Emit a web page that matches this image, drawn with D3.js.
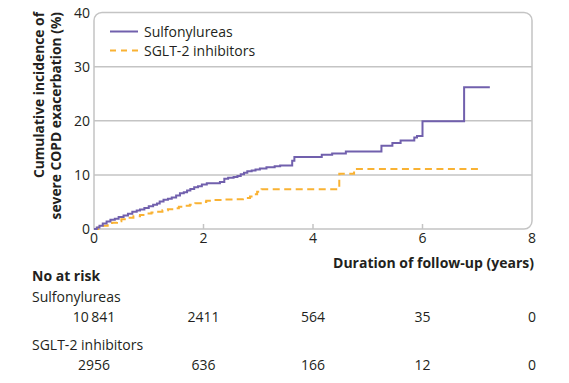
<!DOCTYPE html>
<html><head><meta charset="utf-8">
<script src="https://cdn.jsdelivr.net/npm/d3@7"></script>
<style>
html,body{margin:0;padding:0;background:#fff;}
svg{display:block;font-family:"Open Sans",sans-serif;}
</style></head>
<body><svg id="c" width="569" height="383"></svg>
<script>
// ---- data ----
const seriesNames = ["Sulfonylureas", "SGLT-2 inhibitors"];
const sulfonylureas = [[0,0],[0.05,0.3],[0.1,0.6],[0.16,1.0],[0.23,1.4],[0.3,1.7],[0.38,1.9],[0.45,2.2],[0.54,2.5],[0.62,2.8],[0.7,3.2],[0.78,3.4],[0.84,3.6],[0.92,3.9],[1.0,4.2],[1.08,4.5],[1.15,4.7],[1.2,5.1],[1.27,5.4],[1.35,5.6],[1.42,5.8],[1.5,6.2],[1.57,6.6],[1.64,6.8],[1.7,7.1],[1.76,7.4],[1.83,7.7],[1.9,7.9],[1.97,8.2],[2.06,8.45],[2.3,8.7],[2.38,9.3],[2.45,9.45],[2.55,9.6],[2.62,9.8],[2.68,10.1],[2.74,10.4],[2.8,10.65],[2.88,10.8],[2.95,11.0],[3.03,11.2],[3.15,11.4],[3.3,11.6],[3.4,11.75],[3.62,12.6],[3.66,13.3],[4.16,13.7],[4.35,13.95],[4.6,14.3],[5.25,15.4],[5.45,15.9],[5.6,16.35],[5.85,16.9],[5.9,17.2],[6.0,19.9],[6.76,26.2],[7.23,26.2]];
const sglt2 = [[0,0],[0.08,0.3],[0.16,0.6],[0.25,0.9],[0.33,1.15],[0.42,1.45],[0.5,1.8],[0.6,2.1],[0.72,2.35],[0.84,2.6],[0.95,2.85],[1.05,3.05],[1.14,3.2],[1.25,3.45],[1.35,3.65],[1.45,3.85],[1.55,4.1],[1.65,4.3],[1.75,4.5],[1.85,4.75],[1.95,5.0],[2.05,5.2],[2.2,5.35],[2.4,5.45],[2.6,5.5],[2.72,5.75],[2.85,6.0],[2.92,6.4],[2.98,6.9],[3.06,7.35],[4.48,10.2],[4.75,11.1],[7.08,11.1]];
const xTicks = [0,2,4,6,8];
const yTicks = [0,10,20,30,40];
const yGrid = [10,20,30];
const riskTimes = [0,2,4,6,8];
const riskSulf = ["10\u2009841","2411","564","35","0"];
const riskSglt = ["2956","636","166","12","0"];
const colors = ["#7160ad","#f9b233"];
const textColor = "#231f20";

// ---- chart ----
const svg = d3.select("#c");
const x = d3.scaleLinear().domain([0,8]).range([94,532]);
const y = d3.scaleLinear().domain([0,40]).range([229,12.5]);
const [x0,x1] = x.range(), [yb,yt] = y.range();

// grid
svg.append("g").selectAll("line").data(yGrid).join("line")
  .attr("x1",x0).attr("x2",x1).attr("y1",d=>y(d)).attr("y2",d=>y(d))
  .attr("stroke","#c4c4c4").attr("stroke-width",1.5);

// frame with rounded corners (not bottom-left)
const r = 8;
const p = d3.path();
p.moveTo(x0,yb);
p.lineTo(x0,yt+r);
p.arcTo(x0,yt,x0+r,yt,r);
p.lineTo(x1-r,yt);
p.arcTo(x1,yt,x1,yt+r,r);
p.lineTo(x1,yb-r);
p.arcTo(x1,yb,x1-r,yb,r);
p.closePath();
svg.append("path").attr("d",p.toString()).attr("fill","none")
  .attr("stroke","#c4c4c4").attr("stroke-width",1.5);

// x ticks inward
svg.append("g").selectAll("line").data(xTicks.slice(1,-1)).join("line")
  .attr("x1",d=>x(d)).attr("x2",d=>x(d)).attr("y1",yb).attr("y2",yb-5)
  .attr("stroke","#c4c4c4").attr("stroke-width",1.5);

// tick labels
svg.append("g").selectAll("text").data(xTicks).join("text")
  .attr("x",d=>x(d)).attr("y",243).attr("text-anchor","middle")
  .attr("font-size",14).attr("fill",textColor).text(d=>d);
svg.append("g").selectAll("text").data(yTicks).join("text")
  .attr("x",90).attr("y",d=>y(d)+5).attr("text-anchor","end")
  .attr("font-size",14).attr("fill",textColor).text(d=>d);

// y title
const yt1 = svg.append("text").attr("transform","translate(44,12) rotate(-90)")
  .attr("text-anchor","end").attr("font-size",13.8).attr("font-weight","bold").attr("fill",textColor);
yt1.append("tspan").attr("x",0).attr("y",0).text("Cumulative incidence of");
yt1.append("tspan").attr("x",0).attr("y",16.5).text("severe COPD exacerbation (%)");

// lines
const line = d3.line().x(d=>x(d[0])).y(d=>y(d[1])).curve(d3.curveStepAfter);
svg.append("path").datum(sglt2).attr("d",line).attr("fill","none")
  .attr("stroke",colors[1]).attr("stroke-width",2).attr("stroke-dasharray","7,4.5");
svg.append("path").datum(sulfonylureas).attr("d",line).attr("fill","none")
  .attr("stroke",colors[0]).attr("stroke-width",2);

// legend
const lg = svg.append("g");
seriesNames.forEach((n,i)=>{
  const ly = 31.5 + i*19;
  lg.append("line").attr("x1",110).attr("x2",138).attr("y1",ly).attr("y2",ly)
    .attr("stroke",colors[i]).attr("stroke-width",2)
    .attr("stroke-dasharray", i===1 ? "6,5" : null);
  lg.append("text").attr("x",144).attr("y",ly+5).attr("font-size",14)
    .attr("fill",textColor).text(n);
});

// x title
svg.append("text").attr("x",x1+2).attr("y",268).attr("text-anchor","end")
  .attr("font-size",14).attr("font-weight","bold").attr("fill",textColor)
  .text("Duration of follow-up (years)");

// risk table
svg.append("text").attr("x",32).attr("y",281).attr("font-size",14)
  .attr("font-weight","bold").attr("fill",textColor).text("No at risk");
const rows = [[seriesNames[0],riskSulf,301.5,321.5],[seriesNames[1],riskSglt,350,370]];
rows.forEach(([name,vals,ny,vy])=>{
  svg.append("text").attr("x",32).attr("y",ny).attr("font-size",14)
    .attr("fill",textColor).text(name);
  svg.append("g").selectAll("text").data(vals).join("text")
    .attr("x",(d,i)=>x(riskTimes[i])).attr("y",vy).attr("text-anchor","middle")
    .attr("font-size",14).attr("fill",textColor).text(d=>d);
});
</script></body></html>
